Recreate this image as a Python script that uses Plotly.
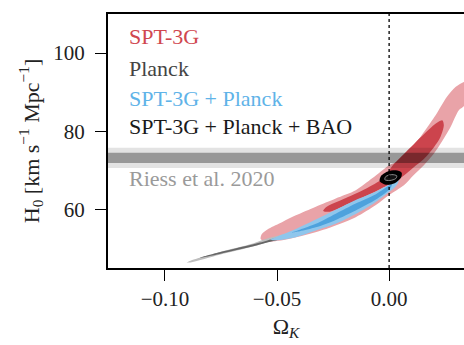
import plotly.graph_objects as go

# ---------------- data ----------------
# SPT-3G 2-sigma / 1-sigma contours (Omega_K, H0)
spt_outer_ok = [0.0378, 0.0333, 0.0296, 0.0258, 0.0213, 0.0168, 0.0123, 0.0079, 0.0034, 0.0,
                -0.0074, -0.0149, -0.0238, -0.0327, -0.0416, -0.0476, -0.0536, -0.0568, -0.0573,
                -0.0550, -0.0448, -0.0297, -0.0149, -0.0059, 0.0, 0.0066, 0.0110, 0.0155, 0.0200,
                0.0235, 0.0274, 0.0311, 0.0333, 0.0369, 0.0378]
spt_outer_h0 = [93.0, 92.6, 91.3, 88.8, 84.6, 80.8, 77.3, 74.7, 72.2, 71.3,
                68.0, 64.9, 62.8, 60.7, 58.5, 56.8, 55.1, 53.7, 52.4,
                51.7, 52.4, 54.7, 58.0, 61.1, 63.7, 66.2, 68.8, 71.3, 74.3,
                77.3, 81.1, 85.4, 86.4, 91.0, 93.0]
spt_inner_ok = [0.0237, 0.0200, 0.0155, 0.0110, 0.0066, 0.0021, -0.0029, -0.0104, -0.0193, -0.0283,
                -0.0294, -0.0265, -0.0179, -0.0089, -0.0015, 0.0034, 0.0066, 0.0110, 0.0155, 0.0200,
                0.0229, 0.0244, 0.0237]
spt_inner_h0 = [82.8, 81.6, 79.2, 76.7, 74.2, 71.6, 67.9, 65.3, 62.9, 60.5,
                59.6, 59.4, 61.5, 63.8, 65.9, 67.4, 68.7, 70.8, 72.9, 75.9,
                78.5, 81.5, 82.8]

# Planck contours
planck_outer_ok = [-0.0220, -0.0398, -0.0547, -0.0607, -0.0756, -0.0890, -0.0903,
                   -0.0881, -0.0756, -0.0607, -0.0533, -0.0398, -0.0220, -0.0220]
planck_outer_h0 = [58.0, 54.8, 52.5, 51.3, 49.1, 46.8, 46.4,
                   46.5, 48.4, 50.5, 51.8, 53.9, 57.4, 58.0]
planck_inner_ok = [-0.0398, -0.0577, -0.0756, -0.0845, -0.0756, -0.0577, -0.0398, -0.0398]
planck_inner_h0 = [54.4, 51.5, 49.0, 47.6, 48.6, 51.0, 54.0, 54.4]

# SPT-3G + Planck contours
sp_outer_ok = [0.0043, 0.0025, 0.0, -0.0059, -0.0149, -0.0238, -0.0327, -0.0416, -0.0506, -0.0532,
               -0.0506, -0.0416, -0.0327, -0.0238, -0.0149, -0.0074, -0.0015, 0.0021, 0.0039, 0.0043]
sp_outer_h0 = [67.5, 66.9, 66.3, 64.6, 62.4, 59.9, 57.4, 55.0, 52.9, 52.3,
               52.1, 52.9, 54.6, 56.3, 58.8, 61.3, 63.8, 65.4, 66.7, 67.5]
sp_inner_ok = [0.0012, -0.0059, -0.0149, -0.0238, -0.0327, -0.0398, -0.0434,
               -0.0398, -0.0327, -0.0238, -0.0149, -0.0059, 0.0003, 0.0012]
sp_inner_h0 = [66.4, 63.9, 61.5, 58.9, 56.3, 54.8, 54.1,
               54.4, 55.4, 57.3, 59.7, 62.5, 65.2, 66.4]

# SPT-3G + Planck + BAO contours
bao_outer_ok = [0.0056, 0.0030, -0.0006, -0.0037, -0.0042, -0.0015, 0.0025, 0.0052, 0.0056]
bao_outer_h0 = [69.4, 70.0, 69.7, 68.5, 67.2, 66.3, 66.7, 68.0, 69.4]
bao_inner_ok = [0.0034, 0.0012, -0.0015, -0.0019, 0.0003, 0.0030, 0.0034]
bao_inner_h0 = [68.6, 68.9, 68.4, 67.6, 67.4, 67.9, 68.6]

# Riess et al. 2020
H0_RIESS = 73.2
H0_RIESS_SIGMA = 1.3

x_ticks = [-0.10, -0.05, 0.00]
y_ticks = [60, 80, 100]
x_range = [-0.1254, 0.0334]
y_range = [45, 110]

legend_labels = ["SPT-3G", "Planck", "SPT-3G + Planck", "SPT-3G + Planck + BAO"]
legend_colors = ["#d0474f", "#444444", "#5fb3e8", "#1a1a1a"]
legend_y = [104.2, 96.0, 88.5, 81.1]
label_x = -0.1170
riess_label = "Riess et al. 2020"
riess_label_y = 68.0

FONT = "Liberation Serif, Times New Roman, serif"

fig = go.Figure()

def contour(xs, ys, fill, line=None, width=0.0):
    fig.add_trace(go.Scatter(
        x=xs, y=ys, mode="lines", fill="toself", fillcolor=fill,
        line=dict(color=line or fill, width=width, shape="spline", smoothing=0.8),
        hoverinfo="skip", showlegend=False))

contour(spt_outer_ok, spt_outer_h0, "#e9a3a8")
contour(spt_inner_ok, spt_inner_h0, "#cc444d")
contour(planck_outer_ok, planck_outer_h0, "#bdbdbd")
contour(planck_inner_ok, planck_inner_h0, "#666666")
contour(sp_outer_ok, sp_outer_h0, "#8fc6ec")
contour(sp_inner_ok, sp_inner_h0, "#4ea2dd")
contour(bao_outer_ok, bao_outer_h0, "#000000")
contour(bao_inner_ok, bao_inner_h0, "#111111", line="#8a8a8a", width=1.0)

# Riess band (2 sigma light, 1 sigma dark)
fig.add_shape(type="rect", xref="paper", yref="y", x0=0, x1=1,
              y0=H0_RIESS - 2 * H0_RIESS_SIGMA, y1=H0_RIESS + 2 * H0_RIESS_SIGMA,
              fillcolor="rgba(0,0,0,0.11)", line_width=0, layer="above")
fig.add_shape(type="rect", xref="paper", yref="y", x0=0, x1=1,
              y0=H0_RIESS - H0_RIESS_SIGMA, y1=H0_RIESS + H0_RIESS_SIGMA,
              fillcolor="rgba(0,0,0,0.33)", line_width=0, layer="above")
# flat-universe line
fig.add_shape(type="line", xref="x", yref="paper", x0=0, x1=0, y0=0, y1=1,
              line=dict(color="black", width=1.3, dash="dot"), layer="above")

for lab, col, yy in zip(legend_labels, legend_colors, legend_y):
    fig.add_annotation(x=label_x, y=yy, text=lab, showarrow=False, xanchor="left",
                       yanchor="middle", font=dict(family=FONT, size=22, color=col))
fig.add_annotation(x=label_x, y=riess_label_y, text=riess_label, showarrow=False,
                   xanchor="left", yanchor="middle",
                   font=dict(family=FONT, size=22, color="#9a9a9a"))

# plot area spans x 108..(right edge), y 14..268 of the page
fig.update_layout(
    width=464, height=345,
    margin=dict(l=108, r=0, t=14, b=77, autoexpand=False),
    paper_bgcolor="white", plot_bgcolor="white",
    font=dict(family=FONT, size=21, color="#222222"),
    showlegend=False,
    xaxis=dict(range=x_range, tickvals=x_ticks, tickformat=".2f",
               showgrid=False, zeroline=False, showline=True, linecolor="black",
               linewidth=2, mirror=True, ticks="outside", ticklen=11, tickwidth=1.3,
               tickcolor="black", ticklabelstandoff=0, automargin=False,
               title=dict(text="Ω<sub><i>K</i></sub>", standoff=8,
                          font=dict(family=FONT, size=22))),
    yaxis=dict(range=y_range, tickvals=y_ticks, showgrid=False, zeroline=False,
               showline=True, linecolor="black", linewidth=2, mirror=False,
               ticks="outside", ticklen=11, tickwidth=1.3, tickcolor="black",
               ticklabelstandoff=6, automargin=False,
               title=dict(text="H<sub>0</sub> [km s<sup>−1</sup> Mpc<sup>−1</sup>]",
                          standoff=8, font=dict(family=FONT, size=22))),
)

fig.write_html("out.html", config={"displayModeBar": False},
               post_script="document.body.style.margin='0';document.body.style.overflow='hidden';")
